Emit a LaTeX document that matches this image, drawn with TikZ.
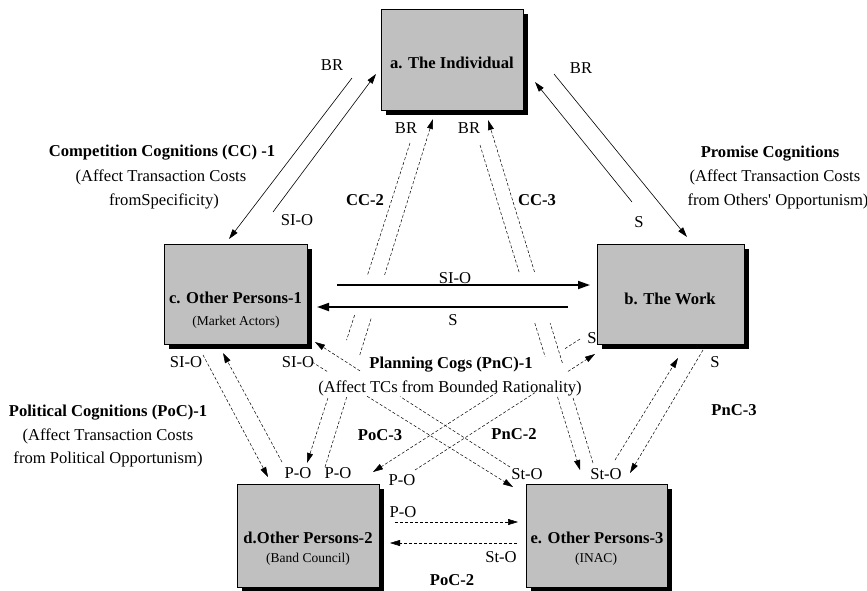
\documentclass[tikz,border=0pt]{standalone}
\usepackage{fontspec}
\setmainfont{Liberation Serif}
\usetikzlibrary{arrows.meta,calc,shadows}
\definecolor{boxgray}{RGB}{192,192,192}
\begin{document}
\begin{tikzpicture}[x=1pt,y=-1pt,
  box/.style={draw=black, line width=0.7pt, fill=boxgray, inner sep=0pt,
    general shadow={fill=black, shadow xshift=4.5pt, shadow yshift=-4.5pt}},
  lbl/.style={anchor=base, inner sep=0pt, font=\fontsize{16.6}{20}\selectfont},
  blbl/.style={anchor=base, inner sep=0pt, font=\fontsize{16.6}{20}\selectfont\bfseries},
  slbl/.style={anchor=base, inner sep=0pt, font=\fontsize{13.5}{16}\selectfont},
  solidarrow/.style={line width=0.6pt, -{Triangle[length=10pt,width=6pt]}},
  thickarrow/.style={line width=1.8pt, -{Triangle[length=12pt,width=8pt]}},
  dasharrow/.style={line width=0.5pt, dash pattern=on 3pt off 2pt,
    -{Triangle[length=10pt,width=6pt]}}]

\useasboundingbox (0,0) rectangle (867,590);

% ---- end points of the links ----
\coordinate (ca-s) at (273,212);  \coordinate (ca-t) at (376,74);
\coordinate (ac-s) at (352,78);   \coordinate (ac-t) at (229,239);
\coordinate (ab-s) at (554,74);   \coordinate (ab-t) at (687,237);
\coordinate (ba-s) at (632,202);  \coordinate (ba-t) at (535,82);
\coordinate (cb-s) at (337,285);  \coordinate (cb-t) at (590,285);
\coordinate (bc-s) at (568,307);  \coordinate (bc-t) at (317,307);
\coordinate (ad-s) at (410,143);  \coordinate (ad-t) at (307,463);
\coordinate (da-s) at (325,467);  \coordinate (da-t) at (433,119);
\coordinate (ae-s) at (480,145);  \coordinate (ae-t) at (580,470);
\coordinate (ea-s) at (593,463);  \coordinate (ea-t) at (488,120);
\coordinate (ce-s) at (312,362);  \coordinate (ce-t) at (513,487);
\coordinate (ec-s) at (510,467);  \coordinate (ec-t) at (315,342);
\coordinate (bd-s) at (580,339);  \coordinate (bd-t) at (373,472);
\coordinate (db-s) at (415,470);  \coordinate (db-t) at (595,354);
\coordinate (cd-s) at (203,355);  \coordinate (cd-t) at (268,477);
\coordinate (dc-s) at (282,462);  \coordinate (dc-t) at (223,353);
\coordinate (de-s) at (395,522);  \coordinate (de-t) at (518,522);
\coordinate (ed-s) at (517,543);  \coordinate (ed-t) at (390,543);
\coordinate (eb-s) at (615,460);  \coordinate (eb-t) at (678,358);
\coordinate (be-s) at (703,350);  \coordinate (be-t) at (630,473);

% ---- solid links ----
\draw[solidarrow] (ac-s) -- (ac-t);
\draw[solidarrow] (ca-s) -- (ca-t);
\draw[solidarrow] (ab-s) -- (ab-t);
\draw[solidarrow] (ba-s) -- (ba-t);
\draw[thickarrow] (cb-s) -- (cb-t);
\draw[thickarrow] (bc-s) -- (bc-t);

% ---- dashed links, broken where they pass the labels ----
\draw[dasharrow] (ad-s) -- ($(ad-s)!0.413!(ad-t)$)
  ($(ad-s)!0.538!(ad-t)$) -- ($(ad-s)!0.616!(ad-t)$)
  ($(ad-s)!0.797!(ad-t)$) -- (ad-t);
\draw[dasharrow] (da-s) -- ($(da-s)!0.201!(da-t)$)
  ($(da-s)!0.322!(da-t)$) -- ($(da-s)!0.431!(da-t)$)
  ($(da-s)!0.552!(da-t)$) -- (da-t);
\draw[dasharrow] (ae-s) -- ($(ae-s)!0.391!(ae-t)$)
  ($(ae-s)!0.548!(ae-t)$) -- ($(ae-s)!0.652!(ae-t)$)
  ($(ae-s)!0.775!(ae-t)$) -- (ae-t);
\draw[dasharrow] (ea-s) -- ($(ea-s)!0.19!(ea-t)$)
  ($(ea-s)!0.292!(ea-t)$) -- ($(ea-s)!0.408!(ea-t)$)
  ($(ea-s)!0.557!(ea-t)$) -- (ea-t);
\draw[dasharrow] (ce-s) -- ($(ce-s)!0.075!(ce-t)$)
  ($(ce-s)!0.274!(ce-t)$) -- (ce-t);
\draw[dasharrow] (ec-s) -- ($(ec-s)!0.564!(ec-t)$)
  ($(ec-s)!0.769!(ec-t)$) -- (ec-t);
\draw[dasharrow] (bd-s) -- ($(bd-s)!0.072!(bd-t)$)
  ($(bd-s)!0.401!(bd-t)$) -- (bd-t);
\draw[dasharrow] (db-s) -- ($(db-s)!0.667!(db-t)$)
  ($(db-s)!0.85!(db-t)$) -- (db-t);
\draw[dasharrow] (cd-s) -- (cd-t);
\draw[dasharrow] (dc-s) -- (dc-t);
\draw[dasharrow] (de-s) -- (de-t);
\draw[dasharrow] (ed-s) -- (ed-t);
\draw[dasharrow] (eb-s) -- (eb-t);
\draw[dasharrow] (be-s) -- (be-t);

% ---- boxes ----
\node[box, minimum width=142pt, minimum height=101pt] (a) at (452,59.5) {};
\node[box, minimum width=147pt, minimum height=100pt] (b) at (670.5,294) {};
\node[box, minimum width=143pt, minimum height=100pt] (c) at (235.5,294) {};
\node[box, minimum width=142pt, minimum height=103pt] (d) at (308,535.5) {};
\node[box, minimum width=141pt, minimum height=103pt] (e) at (596.5,535.5) {};

\node[blbl] (a-title) at (452,68.5) {a. The Individual};
\node[blbl] (b-title) at (670,304.5) {b. The Work};
\node[blbl] (c-title) at (235.5,303.5) {c. Other Persons-1};
\node[slbl] (c-sub) at (236,325.5) {(Market Actors)};
\node[blbl] (d-title) at (308,543.5) {d.Other Persons-2};
\node[slbl] (d-sub) at (308,562.5) {(Band Council)};
\node[blbl] (e-title) at (597,543.5) {e. Other Persons-3};
\node[slbl] (e-sub) at (596,562.5) {(INAC)};

% ---- link labels ----
\node[lbl] (l-br1) at (332,70.5) {BR};
\node[lbl] (l-br2) at (581,73.5) {BR};
\node[lbl] (l-br3) at (406,133.5) {BR};
\node[lbl] (l-br4) at (469,133.5) {BR};

\node[blbl] (cc1-a) at (162,156.5) {Competition Cognitions (CC) -1};
\node[lbl]  (cc1-b) at (161,181.5) {(Affect Transaction Costs};
\node[lbl]  (cc1-c) at (164,205.5) {fromSpecificity)};

\node[lbl]  (l-sio1) at (297,225.5) {SI-O};
\node[blbl] (l-cc2) at (365,205.5) {CC-2};
\node[blbl] (l-cc3) at (537,205.5) {CC-3};

\node[blbl] (pc-a) at (770,157.5) {Promise Cognitions};
\node[lbl]  (pc-b) at (775,181.5) {(Affect Transaction Costs};
\node[lbl]  (pc-c) at (778,205.5) {from Others\textquotesingle\ Opportunism)};

\node[lbl] (l-s1) at (639,227.5) {S};
\node[lbl] (l-sio2) at (455,283.5) {SI-O};
\node[lbl] (l-s2) at (453,325.5) {S};
\node[lbl] (l-sio3) at (186,367.5) {SI-O};
\node[lbl] (l-sio4) at (298,367.5) {SI-O};

\node[blbl] (pn-a) at (451,368.5) {Planning Cogs (PnC)-1};
\node[lbl]  (pn-b) at (450,392.5) {(Affect TCs from Bounded Rationality)};

\node[lbl] (l-s3) at (592,343.5) {S};
\node[lbl] (l-s4) at (715,367.5) {S};

\node[blbl] (po-a) at (108,416.5) {Political Cognitions (PoC)-1};
\node[lbl]  (po-b) at (108,440.5) {(Affect Transaction Costs};
\node[lbl]  (po-c) at (108,463.5) {from Political Opportunism)};

\node[blbl] (l-poc3) at (380,440.5) {PoC-3};
\node[blbl] (l-pnc2) at (514,439.5) {PnC-2};
\node[blbl] (l-pnc3) at (734,415.5) {PnC-3};

\node[lbl] (l-po1) at (298,478.5) {P-O};
\node[lbl] (l-po2) at (338,478.5) {P-O};
\node[lbl] (l-po3) at (402,485.5) {P-O};
\node[lbl] (l-sto1) at (527,479.5) {St-O};
\node[lbl] (l-sto2) at (606,479.5) {St-O};
\node[lbl] (l-po4) at (403,517.5) {P-O};
\node[lbl] (l-sto3) at (501,562.5) {St-O};
\node[blbl] (l-poc2) at (452,585.5) {PoC-2};

\end{tikzpicture}
\end{document}
